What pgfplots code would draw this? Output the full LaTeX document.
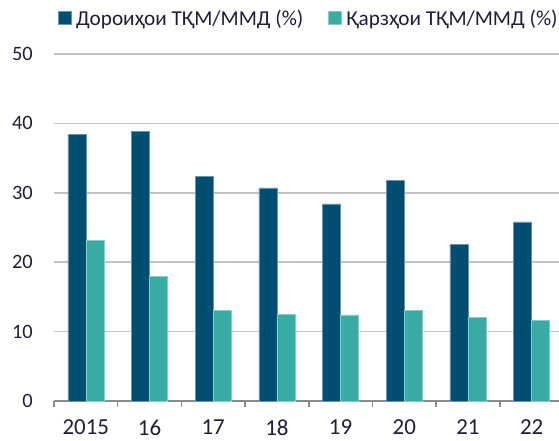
\documentclass[border=0pt]{standalone}
\usepackage{pgfplots}
\pgfplotsset{compat=1.18}
\usepackage{fontspec}
\setmainfont{Carlito}
\definecolor{darkbar}{HTML}{004E71}
\definecolor{tealbar}{HTML}{37ACA2}
\definecolor{txt}{HTML}{1E1E3A}
\definecolor{gridc}{HTML}{C4C4C4}
\definecolor{axc}{HTML}{8C8C8C}
\begin{document}
\begin{tikzpicture}
\begin{axis}[
  name=ax,
  scale only axis,
  width=505bp, height=347bp,
  xmin=-0.5, xmax=7.43,
  ymin=0, ymax=50,
  ybar=0pt,
  bar width=18bp,
  axis x line*=bottom,
  axis y line*=left,
  y axis line style={draw=none},
  x axis line style={draw=axc, line width=1.6bp},
  xtick={0,1,2,3,4,5,6,7},
  xticklabels={2015,16,17,18,19,20,21,22},
  minor xtick={-0.5,0.5,1.5,2.5,3.5,4.5,5.5,6.5},
  ytick={0,10,20,30,40,50},
  major tick length=0pt,
  minor tick length=6bp,
  tick align=outside,
  minor x tick style={draw=axc, line width=1.6bp},
  ymajorgrids,
  major grid style={draw=gridc, line width=1.5bp},
  /pgf/number format/assume math mode=true,
  xticklabel style={font=\fontsize{23}{26}\selectfont, text=txt, inner sep=0pt, anchor=north, yshift=-18.5bp},
  yticklabel style={font=\fontsize{20.5}{24}\selectfont, text=txt, inner sep=0pt, anchor=east, xshift=-21bp},
  legend style={at={(0,1)}, anchor=west, xshift=4bp, yshift=36bp, draw=none, fill=none,
    inner sep=0pt, font=\fontsize{21.3}{25}\selectfont, text=txt,
    nodes={inner sep=0pt},
    legend columns=2,
    /tikz/every odd column/.append style={column sep=5bp},
    /tikz/every even column/.append style={column sep=25bp}},
  legend image code/.code={\fill[#1] (0bp,-6.3bp) rectangle (12.5bp,6.3bp);},
  clip=false,
]
\addplot[fill=darkbar, draw=darkbar!60!white, line width=0.5bp] coordinates {
(0,38.4) (1,38.9) (2,32.4) (3,30.7) (4,28.4) (5,31.8) (6,22.6) (7,25.8)};
\addlegendentry{Дороиҳои ТҚМ/ММД (\%)}
\addplot[fill=tealbar, draw=tealbar!60!white, line width=0.5bp] coordinates {
(0,23.1) (1,18.0) (2,13.1) (3,12.5) (4,12.4) (5,13.1) (6,12.1) (7,11.6)};
\addlegendentry{Қарзҳои ТҚМ/ММД (\%)}
\end{axis}
\pgfresetboundingbox
\path ([xshift=-54bp,yshift=-40bp]ax.south west) rectangle ([yshift=54bp]ax.north east);
\end{tikzpicture}
\end{document}
